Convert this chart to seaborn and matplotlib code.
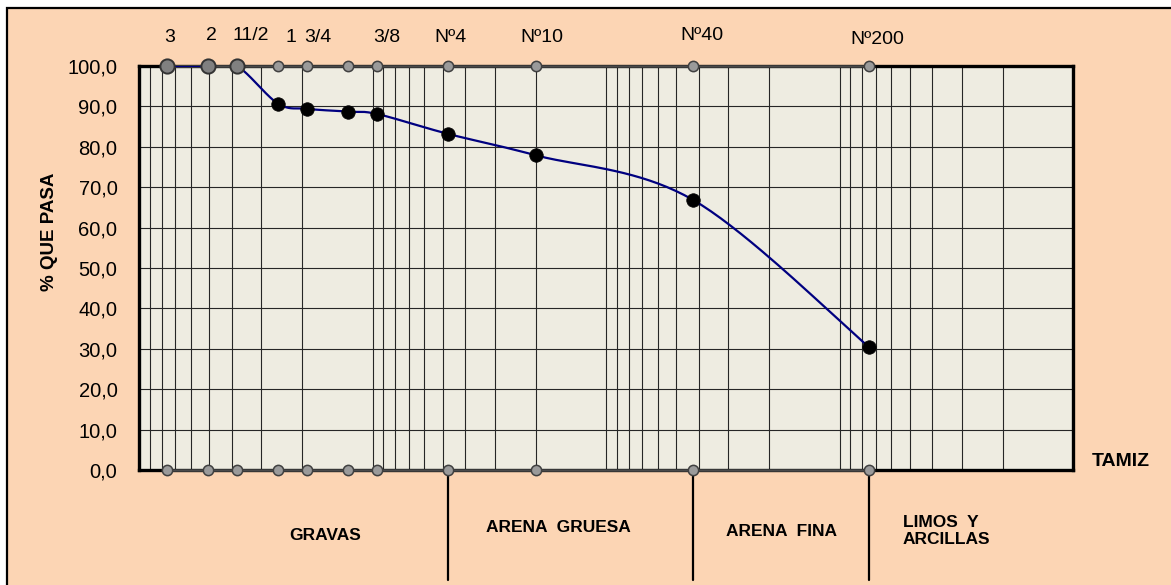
import numpy as np
import pandas as pd
import matplotlib
matplotlib.use("Agg")
import matplotlib.pyplot as plt
import matplotlib.transforms as mtransforms
from matplotlib.patches import Rectangle
from matplotlib.ticker import FixedLocator, FuncFormatter, LogLocator, NullFormatter
import seaborn as sns

# Sieve series (ASTM) and percent passing
sieve_labels = ["3", "2", "11/2", "1", "3/4", "", "3/8", "Nº4", "Nº10", "Nº40", "Nº200"]
sieve_mm = [76.2, 50.8, 38.1, 25.4, 19.05, 12.7, 9.525, 4.75, 2.0, 0.425, 0.075]
percent_passing = [100.0, 100.0, 100.0, 90.7, 89.4, 88.7, 88.1, 83.2, 77.9, 66.9, 30.5]

# Soil fractions and the sieves that separate them
soil_classes = ["GRAVAS", "ARENA  GRUESA", "ARENA  FINA", "LIMOS  Y\nARCILLAS"]
class_limits_mm = [4.75, 0.425, 0.075]

y_ticks = [0, 10, 20, 30, 40, 50, 60, 70, 80, 90, 100]

W, H = 1171, 585
PEACH = "#FCD5B4"
PLOT_BG = "#EEECE1"
NAVY = "#000080"

sns.set_theme(style="white")
plt.rcParams["font.family"] = ["Liberation Sans", "DejaVu Sans"]
plt.rcParams["text.color"] = "black"
plt.rcParams["axes.labelcolor"] = "black"
plt.rcParams["xtick.color"] = "black"
plt.rcParams["ytick.color"] = "black"


def px(x, y):
    """Pixel position (from top-left) to figure fraction."""
    return x / W, 1 - y / H


def smooth_curve(x, y, steps=40):
    """Bezier smoothing through the points in (log10 x, y) space."""
    pts = np.column_stack([np.log10(x), np.asarray(y, dtype=float)])
    padded = np.vstack([pts[0], pts, pts[-1]])
    t = np.linspace(0, 1, steps)[:, None]
    parts = []
    for i in range(len(pts) - 1):
        p0, p1, p2, p3 = padded[i], padded[i + 1], padded[i + 2], padded[i + 3]
        c1 = p1 + (p2 - p0) / 6
        c2 = p2 - (p3 - p1) / 6
        seg = (1 - t) ** 3 * p1 + 3 * (1 - t) ** 2 * t * c1 + 3 * (1 - t) * t ** 2 * c2 + t ** 3 * p2
        parts.append(seg if i == 0 else seg[1:])
    curve = np.vstack(parts)
    return 10 ** curve[:, 0], curve[:, 1]


fig = plt.figure(figsize=(W / 100, H / 100), dpi=100, facecolor="white")
# chart area; only its top and left borders fall inside the image
fig.patches.append(Rectangle((7 / W, -1.0), 1.3, 1.0 + (H - 8) / H, transform=fig.transFigure,
                             facecolor=PEACH, edgecolor="black", linewidth=1.6, zorder=-10))

left, right, top, bottom = 139, 1073, 66, 470
ax = fig.add_axes([left / W, 1 - bottom / H, (right - left) / W, (bottom - top) / H])
ax.set_facecolor(PLOT_BG)

ax.set_xscale("log")
ax.set_xlim(100, 0.01)
ax.set_ylim(0, 100)

# log grid: decades plus 2..9 subdivisions
ax.xaxis.set_major_locator(LogLocator(base=10))
ax.xaxis.set_minor_locator(LogLocator(base=10, subs=np.arange(2, 10)))
ax.xaxis.set_major_formatter(NullFormatter())
ax.xaxis.set_minor_formatter(NullFormatter())
ax.yaxis.set_major_locator(FixedLocator(y_ticks))
ax.yaxis.set_major_formatter(FuncFormatter(lambda v, _: f"{v:.1f}".replace(".", ",")))
ax.grid(True, which="both", axis="x", color="#262626", linewidth=0.8)
ax.grid(True, which="major", axis="y", color="#262626", linewidth=0.8)
ax.set_axisbelow(True)
ax.tick_params(axis="both", which="both", length=0)
ax.tick_params(axis="y", labelsize=14.5, pad=15.5, labelcolor="black")

for side in ["left", "right", "top", "bottom"]:
    ax.spines[side].set_visible(True)
    ax.spines[side].set_color("black")
    ax.spines[side].set_linewidth(2.4)

# sieve reference rows along the bottom (0 %) and top (100 %) edges
ref = pd.DataFrame({
    "mm": sieve_mm * 2,
    "pct": [0.0] * len(sieve_mm) + [100.0] * len(sieve_mm),
    "row": ["bottom"] * len(sieve_mm) + ["top"] * len(sieve_mm),
})
for row, sub in ref.groupby("row"):
    ax.plot(sub["mm"], sub["pct"], color="#4a4a4a", linewidth=1.8, clip_on=False, zorder=4)
sns.scatterplot(data=ref, x="mm", y="pct", ax=ax, s=55, color="#9a9a9a",
                edgecolor="#404040", linewidth=1.1, zorder=6, clip_on=False, legend=False)

# smoothed gradation curve
cx, cy = smooth_curve(sieve_mm, percent_passing)
sns.lineplot(x=cx, y=cy, sort=False, estimator=None, ax=ax, color=NAVY, linewidth=1.6, zorder=5)

pts = pd.DataFrame({"mm": sieve_mm, "pct": percent_passing})
full = pts[pts["pct"] >= 100]
part = pts[pts["pct"] < 100]
sns.scatterplot(data=full, x="mm", y="pct", ax=ax, s=105, color="#808080",
                edgecolor="#333333", linewidth=1.4, zorder=7, clip_on=False, legend=False)
sns.scatterplot(data=part, x="mm", y="pct", ax=ax, s=95, color="black",
                edgecolor="black", linewidth=0.5, zorder=7, clip_on=False, legend=False)
ax.set_xlabel("")
ax.set_ylabel("")

# sieve names above the chart (offsets in pixels)
label_dx = [3, 4, 14, 13, 11, 0, 9, 3, 6, 9, 9]
label_dy = [28, 30, 30, 29, 29, 29, 29, 29, 28.5, 30.5, 26.5]
for lab, mm, dx, dy in zip(sieve_labels, sieve_mm, label_dx, label_dy):
    if lab:
        ax.annotate(lab, xy=(mm, 100), xytext=(dx * 0.72, dy * 0.72), textcoords="offset points",
                    ha="center", va="center", fontsize=14, color="black", annotation_clip=False)

# fraction boundaries below the chart
blend = mtransforms.blended_transform_factory(ax.transData, ax.transAxes)
for mm in class_limits_mm:
    ax.plot([mm, mm], [0, -(580 - bottom) / (bottom - top)], transform=blend,
            color="black", linewidth=1.6, clip_on=False, zorder=3)

fig.text(*px(325, 535), soil_classes[0], ha="center", va="center", fontsize=12.5, fontweight="bold")
fig.text(*px(558, 528), soil_classes[1], ha="center", va="center", fontsize=12.5, fontweight="bold")
fig.text(*px(782, 531), soil_classes[2], ha="center", va="center", fontsize=12.5, fontweight="bold")
fig.text(*px(903, 531), soil_classes[3], ha="left", va="center", fontsize=12.5,
         fontweight="bold", linespacing=1.2)

fig.text(*px(1121, 461), "TAMIZ", ha="center", va="center", fontsize=14, fontweight="bold")
fig.text(*px(50, 232), "% QUE PASA", ha="center", va="center", rotation=90,
         fontsize=13.5, fontweight="bold")

fig.savefig("out.png", dpi=100, facecolor=fig.get_facecolor())
